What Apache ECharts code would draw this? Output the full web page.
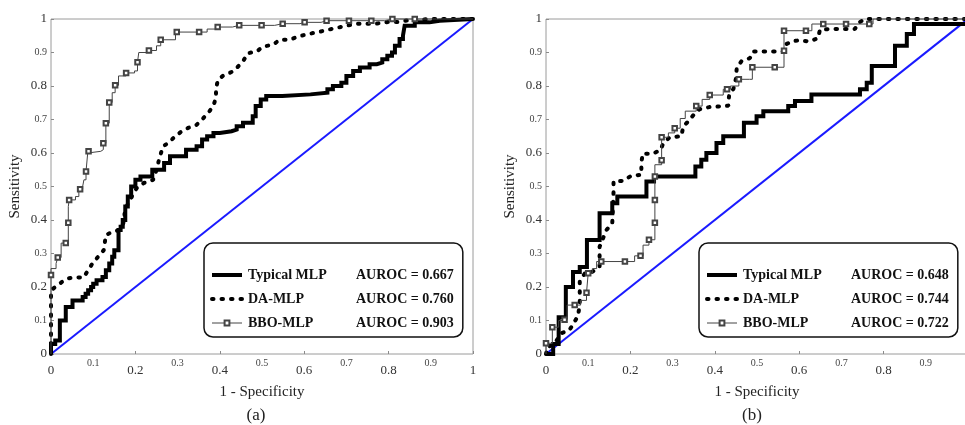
<!DOCTYPE html>
<html><head><meta charset="utf-8">
<script src="https://cdn.jsdelivr.net/npm/echarts@6/dist/echarts.min.js"></script>
<style>html,body{margin:0;padding:0;background:#fff}#c{width:965px;height:425px}</style>
</head><body><div id="c"></div><script>
// ---- data ----
const tickLabels = ['0','0.1','0.2','0.3','0.4','0.5','0.6','0.7','0.8','0.9','1'];
const seriesNames = ['Typical MLP','DA-MLP','BBO-MLP'];
const aurocA = ['0.667','0.760','0.903'];
const aurocB = ['0.648','0.744','0.722'];
const panelLabels = ['(a)','(b)'];
const diagonal = [[0,0],[1,1]];

const typicalA = [[0,0],[0,0.03],[0.01,0.04],[0.021,0.10],[0.035,0.14],[0.051,0.16],[0.075,0.17],[0.082,0.18],[0.088,0.19],[0.095,0.20],[0.1,0.21],[0.108,0.22],[0.122,0.23],[0.13,0.25],[0.138,0.27],[0.145,0.29],[0.15,0.31],[0.16,0.37],[0.165,0.38],[0.17,0.40],[0.176,0.44],[0.182,0.47],[0.19,0.50],[0.2,0.52],[0.212,0.53],[0.24,0.55],[0.268,0.57],[0.282,0.59],[0.32,0.61],[0.345,0.62],[0.358,0.64],[0.37,0.65],[0.385,0.66],[0.4,0.665],[0.428,0.67],[0.44,0.68],[0.455,0.69],[0.478,0.71],[0.485,0.74],[0.497,0.76],[0.51,0.77],[0.548,0.775],[0.615,0.78],[0.655,0.79],[0.668,0.80],[0.688,0.81],[0.70,0.83],[0.716,0.845],[0.732,0.855],[0.755,0.865],[0.772,0.87],[0.785,0.88],[0.797,0.89],[0.808,0.90],[0.815,0.92],[0.826,0.94],[0.834,0.95],[0.838,0.98],[0.862,0.99],[0.897,0.995],[0.921,1.0],[1,1]];

const daA = [[0,0],[0,0.19],[0.01,0.2],[0.027,0.216],[0.041,0.226],[0.057,0.229],[0.077,0.228],[0.086,0.246],[0.096,0.266],[0.112,0.291],[0.125,0.31],[0.13,0.355],[0.148,0.366],[0.163,0.37],[0.173,0.395],[0.175,0.43],[0.187,0.46],[0.203,0.495],[0.219,0.51],[0.242,0.52],[0.25,0.55],[0.258,0.59],[0.266,0.62],[0.282,0.634],[0.294,0.65],[0.309,0.664],[0.325,0.675],[0.345,0.684],[0.361,0.704],[0.375,0.724],[0.384,0.739],[0.391,0.764],[0.391,0.794],[0.396,0.819],[0.408,0.831],[0.432,0.844],[0.444,0.859],[0.455,0.874],[0.467,0.898],[0.487,0.903],[0.503,0.918],[0.526,0.923],[0.542,0.938],[0.566,0.938],[0.586,0.948],[0.609,0.955],[0.633,0.961],[0.657,0.968],[0.676,0.973],[0.7,0.98],[0.728,0.986],[0.771,0.986],[0.799,0.991],[0.822,0.991],[0.846,0.996],[0.9,1],[1,1]];

// [x, y, marker]
const bboA = [[0,0,0],[0,0.236,1],[0,0.255,0],[0.012,0.27,0],[0.016,0.288,1],[0.024,0.331,0],[0.035,0.331,1],[0.041,0.392,1],[0.041,0.44,0],[0.043,0.46,1],[0.058,0.47,0],[0.066,0.492,0],[0.069,0.492,1],[0.075,0.50,0],[0.078,0.52,0],[0.083,0.545,1],[0.087,0.60,0],[0.089,0.605,1],[0.118,0.61,0],[0.124,0.629,1],[0.13,0.689,1],[0.138,0.751,1],[0.145,0.78,0],[0.152,0.802,1],[0.16,0.83,0],[0.178,0.839,1],[0.198,0.845,0],[0.205,0.871,1],[0.208,0.90,0],[0.232,0.906,1],[0.25,0.92,0],[0.26,0.938,1],[0.295,0.961,0],[0.298,0.961,1],[0.351,0.961,1],[0.37,0.97,0],[0.395,0.976,1],[0.43,0.981,0],[0.446,0.981,1],[0.499,0.981,1],[0.53,0.986,0],[0.549,0.986,1],[0.59,0.99,0],[0.601,0.99,1],[0.64,0.995,0],[0.653,0.995,1],[0.706,0.995,1],[0.759,0.995,1],[0.79,1,0],[0.809,1,1],[0.862,1,1],[1,1,0]];

const typicalB = [[0,0],[0.017,0.03],[0.03,0.11],[0.047,0.2],[0.064,0.245],[0.08,0.26],[0.097,0.34],[0.127,0.42],[0.157,0.45],[0.169,0.47],[0.238,0.515],[0.256,0.53],[0.354,0.56],[0.368,0.58],[0.38,0.60],[0.404,0.63],[0.42,0.65],[0.469,0.69],[0.499,0.71],[0.515,0.725],[0.574,0.74],[0.59,0.755],[0.629,0.775],[0.744,0.79],[0.76,0.81],[0.772,0.86],[0.827,0.92],[0.855,0.955],[0.872,0.985],[1,0.985],[1,1]];

const daB = [[0,0],[0.003,0.02],[0.02,0.03],[0.036,0.062],[0.056,0.072],[0.076,0.114],[0.08,0.15],[0.08,0.216],[0.092,0.241],[0.107,0.243],[0.127,0.261],[0.127,0.32],[0.143,0.37],[0.157,0.39],[0.16,0.482],[0.16,0.515],[0.183,0.517],[0.202,0.532],[0.226,0.535],[0.226,0.57],[0.229,0.598],[0.254,0.598],[0.272,0.61],[0.277,0.627],[0.293,0.647],[0.321,0.65],[0.325,0.679],[0.339,0.697],[0.349,0.713],[0.364,0.731],[0.387,0.737],[0.432,0.741],[0.434,0.774],[0.444,0.791],[0.45,0.821],[0.452,0.854],[0.463,0.874],[0.483,0.883],[0.491,0.903],[0.562,0.903],[0.566,0.923],[0.582,0.933],[0.598,0.936],[0.624,0.933],[0.645,0.943],[0.649,0.968],[0.673,0.97],[0.732,0.97],[0.74,0.988],[0.756,1],[1,1]];

const bboB = [[0,0,0],[0,0.032,1],[0.015,0.08,1],[0.03,0.10,0],[0.044,0.102,1],[0.05,0.146,0],[0.068,0.146,1],[0.082,0.16,0],[0.096,0.183,1],[0.1,0.241,1],[0.11,0.255,0],[0.12,0.276,0],[0.131,0.276,1],[0.187,0.276,1],[0.21,0.293,0],[0.224,0.293,1],[0.23,0.325,0],[0.244,0.341,1],[0.258,0.392,1],[0.258,0.46,1],[0.258,0.53,1],[0.258,0.565,0],[0.274,0.578,1],[0.274,0.647,1],[0.29,0.66,0],[0.305,0.674,1],[0.318,0.703,0],[0.33,0.725,0],[0.356,0.740,1],[0.37,0.76,0],[0.388,0.773,1],[0.42,0.79,0],[0.429,0.79,1],[0.437,0.80,0],[0.457,0.82,1],[0.482,0.82,0],[0.489,0.856,1],[0.542,0.856,1],[0.564,0.905,1],[0.564,0.965,1],[0.616,0.965,1],[0.63,0.985,0],[0.657,0.985,1],[0.711,0.985,1],[0.766,0.985,1],[0.775,1,0],[1,1,0]];

// ---- chart ----
const FONT = '"Liberation Serif","Times New Roman",serif';
const gridLeft = [51, 546];
const labelFmt = (v) => {
  const i = Math.round(v * 10);
  return (i % 2 === 0 ? '{L|' : '{S|') + tickLabels[i] + '}';
};

const grids = [], xAxes = [], yAxes = [], series = [], legends = [], graphics = [];
const panels = [
  {typ: typicalA, da: daA, bbo: bboA, auc: aurocA},
  {typ: typicalB, da: daB, bbo: bboB, auc: aurocB}
];
panels.forEach((p, g) => {
  grids.push({left: gridLeft[g], top: 19, width: 422, height: 335, show: true,
    outerBoundsMode: 'none', containLabel: false,
    borderColor: '#9a9a9a', borderWidth: 1, backgroundColor: 'transparent'});
  xAxes.push({type: 'value', gridIndex: g, min: 0, max: 1, interval: 0.1, position: 'bottom',
    axisLine: {show: false}, axisTick: {show: false}, splitLine: {show: false},
    axisLabel: {margin: 4, formatter: labelFmt,
      rich: {L: {fontSize: 13, fontFamily: FONT, color: '#333', padding: [6, 0, 0, 0]},
             S: {fontSize: 10, fontFamily: FONT, color: '#444'}}},
    name: '1 - Specificity', nameLocation: 'middle', nameGap: 31,
    nameTextStyle: {fontSize: 15, fontFamily: FONT, color: '#222'}});
  xAxes.push({type: 'value', gridIndex: g, min: 0, max: 1, interval: 0.2, position: 'bottom',
    axisLine: {show: false}, axisLabel: {show: false}, splitLine: {show: false},
    axisTick: {show: true, inside: true, length: 3, lineStyle: {color: '#8a8a8a'}}});
  yAxes.push({type: 'value', gridIndex: g, min: 0, max: 1, interval: 0.1,
    axisLine: {show: false}, splitLine: {show: false},
    axisTick: {show: true, inside: true, length: 3, lineStyle: {color: '#8a8a8a'}},
    axisLabel: {margin: 4, formatter: labelFmt,
      rich: {L: {fontSize: 13, fontFamily: FONT, color: '#333'},
             S: {fontSize: 10, fontFamily: FONT, color: '#444'}}},
    name: 'Sensitivity', nameLocation: 'middle', nameGap: 28, nameRotate: 90,
    nameTextStyle: {fontSize: 15, fontFamily: FONT, color: '#222'}});
  const xi = g * 2, yi = g;
  series.push({type: 'line', name: 'diag' + g, xAxisIndex: xi, yAxisIndex: yi, data: diagonal,
    symbol: 'none', silent: true, clip: false, z: 2,
    lineStyle: {color: '#1a1aff', width: 2}});
  series.push({type: 'line', name: seriesNames[0], xAxisIndex: xi, yAxisIndex: yi, data: p.typ,
    step: 'end', symbol: 'none', clip: false, z: 3,
    itemStyle: {color: '#000'},
    lineStyle: {color: '#000', width: 4, join: 'miter'}});
  series.push({type: 'line', name: seriesNames[1], xAxisIndex: xi, yAxisIndex: yi, data: p.da,
    symbol: 'none', clip: false, z: 3,
    itemStyle: {color: '#000'},
    lineStyle: {color: '#000', width: 4, type: [1.5, 8], cap: 'round'}});
  series.push({type: 'line', name: seriesNames[2], xAxisIndex: xi, yAxisIndex: yi,
    data: p.bbo.map(d => d[2] ? {value: [d[0], d[1]]} : {value: [d[0], d[1]], symbol: 'none'}),
    step: 'end', symbol: 'emptyRect', symbolSize: 4.5, clip: false, z: 4,
    itemStyle: {color: '#444', borderWidth: 1},
    lineStyle: {color: '#444', width: 1}});
  legends.push({orient: 'vertical', left: gridLeft[g] + 153, top: 243,
    padding: [25, 9, 7, 6], itemGap: 10, itemWidth: 30, itemHeight: 6,
    backgroundColor: '#fff', borderColor: '#111', borderWidth: 1.5, borderRadius: 9,
    selectedMode: false,
    data: [
      {name: seriesNames[0], itemStyle: {opacity: 0}},
      {name: seriesNames[1], itemStyle: {opacity: 0}},
      {name: seriesNames[2]}
    ],
    lineStyle: {width: 'inherit'},
    formatter: (name) => '{n|' + name + '}{v|AUROC = ' + p.auc[seriesNames.indexOf(name)] + '}',
    textStyle: {fontFamily: FONT, fontWeight: 'bold', fontSize: 14, color: '#111',
      rich: {n: {width: 108, fontFamily: FONT, fontWeight: 'bold', fontSize: 14, color: '#111', padding: [0, 0, 0, 1]},
             v: {fontFamily: FONT, fontWeight: 'bold', fontSize: 14, color: '#111'}}}});
  graphics.push({type: 'text', x: g === 0 ? 256 : 752, y: 416,
    style: {text: panelLabels[g], fontSize: 17, fontFamily: FONT, fill: '#222',
      align: 'center', verticalAlign: 'middle'}});
});

const chart = echarts.init(document.getElementById('c'), null, {renderer: 'canvas'});
chart.setOption({
  animation: false,
  backgroundColor: '#fff',
  grid: grids, xAxis: xAxes, yAxis: yAxes, series: series, legend: legends, graphic: graphics
});
</script></body></html>
